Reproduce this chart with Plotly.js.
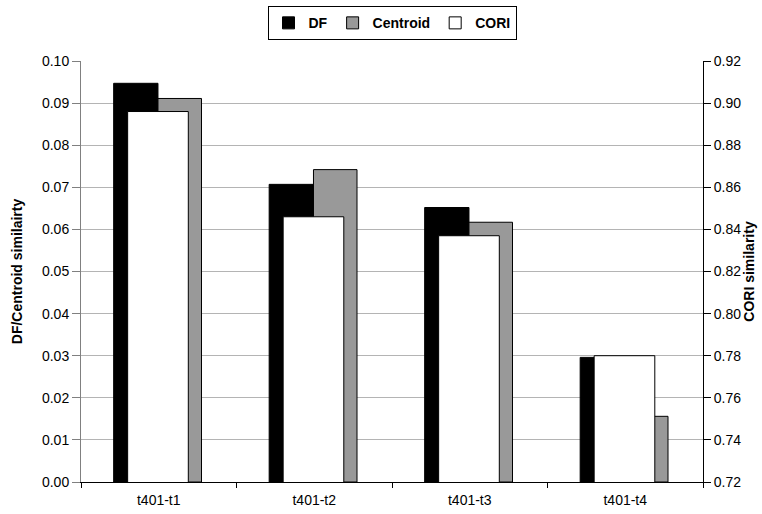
<!DOCTYPE html>
<html>
<head>
<meta charset="utf-8">
<script src="https://cdn.plot.ly/plotly-3.0.1.min.js"></script>
<style>
  html, body { margin: 0; padding: 0; background: #ffffff; }
  #chart { width: 762px; height: 514px; }
</style>
</head>
<body>
<div id="chart"></div>
<script>
// Query-pair similarity scores per method
const categories = ["t401-t1", "t401-t2", "t401-t3", "t401-t4"];
const dfValues = [0.0947, 0.0707, 0.0652, 0.0296];
const centroidValues = [0.0911, 0.0742, 0.0617, 0.0156];
const coriValues = [0.896, 0.846, 0.837, 0.780];

const leftTicks = [0, 0.01, 0.02, 0.03, 0.04, 0.05, 0.06, 0.07, 0.08, 0.09, 0.10];
const rightTicks = [0.72, 0.74, 0.76, 0.78, 0.80, 0.82, 0.84, 0.86, 0.88, 0.90, 0.92];

const font = "Liberation Sans, Arial, sans-serif";
const outline = { color: "#000000", width: 1 };

const traces = [
  {
    type: "bar", name: "DF", x: categories, y: dfValues,
    offset: -0.29, width: 0.285,
    marker: { color: "#000000", line: outline },
    xaxis: "x", yaxis: "y"
  },
  {
    type: "bar", name: "Centroid", x: categories, y: centroidValues,
    offset: -0.005, width: 0.28,
    marker: { color: "#999999", line: outline },
    xaxis: "x", yaxis: "y"
  },
  {
    // CORI sits on the right-hand scale, drawn in front of the other two
    type: "bar", name: "CORI", x: categories, y: coriValues,
    offset: -0.2, width: 0.39,
    marker: { color: "#ffffff", line: outline },
    xaxis: "x", yaxis: "y2"
  }
];

const layout = {
  width: 762, height: 514,
  margin: { l: 81, r: 59, t: 61, b: 32, autoexpand: false },
  paper_bgcolor: "#ffffff", plot_bgcolor: "#ffffff",
  font: { family: font, size: 14, color: "#000000" },
  barmode: "overlay",
  showlegend: true,
  legend: {
    orientation: "h", x: 0.5, xanchor: "center", y: 1.13, yanchor: "top",
    bordercolor: "#000000", borderwidth: 1,
    font: { family: font, size: 14, color: "#000000", weight: "bold" },
    itemwidth: 30, tracegroupgap: 0
  },
  xaxis: {
    type: "category", range: [-0.5, 3.5],
    showline: true, linecolor: "#000000", linewidth: 1,
    ticks: "outside", tickson: "boundaries", ticklen: 5, tickcolor: "#000000",
    ticklabelstandoff: 5,
    showgrid: false, zeroline: false,
    tickfont: { family: font, size: 14 },
    fixedrange: true
  },
  yaxis: {
    range: [0, 0.10], tickvals: leftTicks, tickformat: ".2f",
    showline: true, linecolor: "#808080", linewidth: 1,
    ticks: "outside", ticklen: 8, tickcolor: "#808080",
    showgrid: true, gridcolor: "#b4b4b4", gridwidth: 1,
    zeroline: false,
    tickfont: { family: font, size: 14 },
    title: { text: "DF/Centroid similairty", font: { family: font, size: 14, weight: "bold" }, standoff: 16 }
  },
  yaxis2: {
    overlaying: "y", side: "right",
    range: [0.72, 0.92],
    tickvals: rightTicks, tickformat: ".2f",
    showline: true, linecolor: "#000000", linewidth: 1,
    ticks: "outside", ticklen: 7, tickcolor: "#000000",
    showgrid: false, zeroline: false,
    tickfont: { family: font, size: 14 },
    title: { text: "CORI similarity", font: { family: font, size: 14, weight: "bold" }, standoff: 3 }
  }
};

Plotly.newPlot("chart", traces, layout, { displayModeBar: false, staticPlot: true });
</script>
</body>
</html>
